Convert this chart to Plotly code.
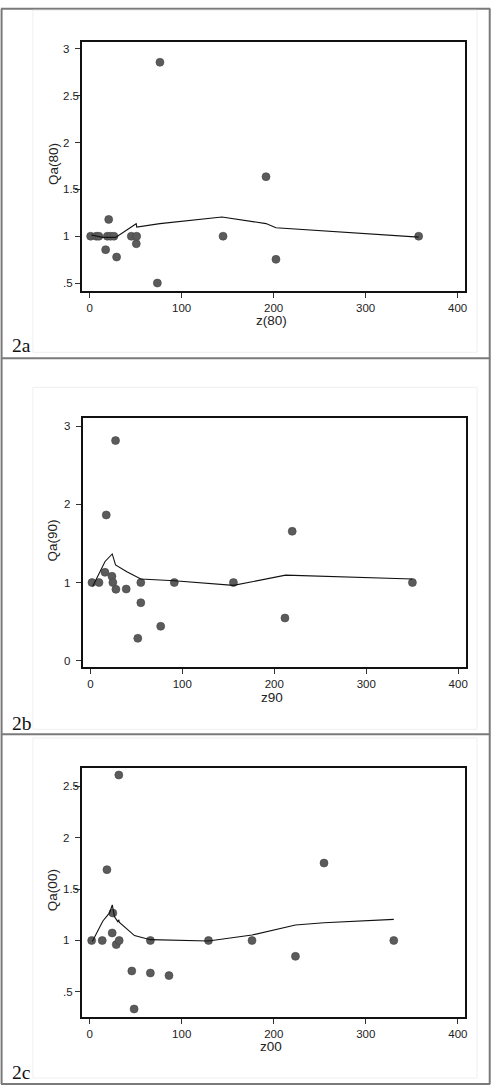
import plotly.graph_objects as go

W, H = 498, 1086

# ---------------- data ----------------
# Panel 2a
z80 = [1.1, 7.2, 10.0, 17.4, 19.2, 20.7, 22.8, 26.4, 29.3, 45.3, 50.7, 51.1, 73.6, 76.4, 145.0, 191.7, 202.5, 357.6]
qa80 = [1.0, 1.0, 1.0, 0.856, 1.0, 1.18, 1.0, 1.0, 0.778, 1.0, 0.92, 1.0, 0.5, 2.858, 1.0, 1.636, 0.753, 1.0]
fit80_x = [1.8, 14.4, 28.2, 50.6, 51.2, 76.4, 143.8, 191.7, 202.5, 357.6]
fit80_y = [1.013, 0.988, 0.988, 1.134, 1.098, 1.135, 1.205, 1.135, 1.09, 0.99]

# Panel 2b
z90 = [1.8, 9.4, 15.9, 17.3, 23.5, 24.5, 27.4, 27.8, 39.0, 51.6, 54.9, 54.9, 76.5, 91.3, 155.6, 211.6, 219.5, 350.2]
qa90 = [1.0, 1.0, 1.131, 1.865, 1.08, 1.0, 2.817, 0.913, 0.917, 0.286, 1.0, 0.742, 0.44, 1.0, 1.0, 0.546, 1.656, 1.0]
fit90_x = [2.5, 10.1, 16.0, 23.8, 27.4, 39.7, 54.9, 91.3, 155.6, 212.3, 350.2]
fit90_y = [0.95, 1.139, 1.27, 1.366, 1.225, 1.139, 1.045, 1.024, 0.964, 1.095, 1.046]

# Panel 2c
z00 = [2.2, 13.7, 18.8, 24.5, 25.2, 28.9, 31.7, 32.1, 45.8, 48.3, 66.0, 66.0, 86.2, 129.1, 176.4, 223.6, 254.6, 330.4]
qa00 = [1.0, 1.0, 1.688, 1.073, 1.267, 0.96, 2.607, 1.0, 0.704, 0.335, 1.0, 0.684, 0.659, 1.0, 1.0, 0.846, 1.752, 1.0]
fit00_x = [2.9, 14.4, 21.6, 24.6, 27.0, 30.6, 31.7, 32.1, 48.7, 66.0, 129.1, 176.4, 223.6, 254.6, 330.4]
fit00_y = [0.99, 1.19, 1.268, 1.345, 1.231, 1.183, 1.2, 1.178, 1.048, 1.008, 0.995, 1.053, 1.15, 1.172, 1.205]

x_ticks = [0, 100, 200, 300, 400]
x_ticklabels = ["0", "100", "200", "300", "400"]
y_ticks_a = [0.5, 1, 1.5, 2, 2.5, 3]
y_ticklabels_a = [".5", "1", "1.5", "2", "2.5", "3"]
y_ticks_b = [0, 1, 2, 3]
y_ticklabels_b = ["0", "1", "2", "3"]
y_ticks_c = [0.5, 1, 1.5, 2, 2.5]
y_ticklabels_c = [".5", "1", "1.5", "2", "2.5"]

x_titles = ["z(80)", "z90", "z00"]
y_titles = ["Qa(80)", "Qa(90)", "Qa(00)"]
panel_labels = ["2a", "2b", "2c"]

# ---------------- layout helpers ----------------
def px_x(p):
    return p / W

def px_y(p):
    return 1 - p / H

panels = [
    dict(x=z80, y=qa80, fx=fit80_x, fy=fit80_y,
         box=(82.5, 467, 41.5, 291), xr=[-8.12, 408.1], yr=[0.415, 3.08],
         yt=y_ticks_a, ytl=y_ticklabels_a, ylab_x=62, ytitle_x=53, xtitle_y=321, plabel_y=346),
    dict(x=z90, y=qa90, fx=fit90_x, fy=fit90_y,
         box=(83, 468, 418.3, 667.3), xr=[-8.34, 408.6], yr=[-0.0845, 3.102],
         yt=y_ticks_b, ytl=y_ticklabels_b, ylab_x=63, ytitle_x=53, xtitle_y=697.5, plabel_y=723),
    dict(x=z00, y=qa00, fx=fit00_x, fy=fit00_y,
         box=(82.5, 467, 767.7, 1017), xr=[-8.11, 407.9], yr=[0.257, 2.678],
         yt=y_ticks_c, ytl=y_ticklabels_c, ylab_x=62.5, ytitle_x=53, xtitle_y=1046.5, plabel_y=1072.5),
]

fig = go.Figure()
annotations = []
layout_axes = {}

tick_font = dict(family="Liberation Sans, Arial, sans-serif", size=11.5, color="#222")
title_font = dict(family="Liberation Sans, Arial, sans-serif", size=13.5, color="#222")

for i, p in enumerate(panels):
    n = "" if i == 0 else str(i + 1)
    xa, ya = "x" + n, "y" + n
    x0, x1, y0, y1 = p["box"]
    fig.add_trace(go.Scatter(
        x=p["x"], y=p["y"], mode="markers", xaxis=xa, yaxis=ya,
        marker=dict(size=8, color="#5b5b5b", line=dict(width=0.6, color="#444")),
        showlegend=False, hoverinfo="skip"))
    fig.add_trace(go.Scatter(
        x=p["fx"], y=p["fy"], mode="lines", xaxis=xa, yaxis=ya,
        line=dict(color="#111", width=1.1),
        showlegend=False, hoverinfo="skip"))
    layout_axes["xaxis" + n] = dict(
        domain=[px_x(x0), px_x(x1)], range=p["xr"], anchor=ya,
        tickvals=x_ticks, ticktext=x_ticklabels, ticks="outside", ticklen=5,
        tickcolor="#333", tickwidth=1, tickfont=tick_font,
        showline=True, linecolor="#111", linewidth=1.6, mirror=True,
        showgrid=False, zeroline=False, fixedrange=True)
    layout_axes["yaxis" + n] = dict(
        domain=[px_y(y1), px_y(y0)], range=p["yr"], anchor=xa,
        tickvals=p["yt"], ticks="outside", ticklen=5, showticklabels=False,
        tickcolor="#333", tickwidth=1,
        showline=True, linecolor="#111", linewidth=1.6, mirror=True,
        showgrid=False, zeroline=False, fixedrange=True)
    # y tick labels (left aligned as in the original)
    for v, t in zip(p["yt"], p["ytl"]):
        annotations.append(dict(
            x=px_x(p["ylab_x"]), xref="paper", y=v, yref=ya,
            text=t, showarrow=False, xanchor="left", yanchor="middle",
            font=tick_font, borderpad=0))
    # axis titles
    annotations.append(dict(
        x=px_x((x0 + x1) / 2 - 2.5), xref="paper", y=px_y(p["xtitle_y"]), yref="paper",
        text=x_titles[i], showarrow=False, xanchor="center", yanchor="middle",
        font=title_font, borderpad=0))
    annotations.append(dict(
        x=px_x(p["ytitle_x"]), xref="paper", y=px_y((y0 + y1) / 2 - 2), yref="paper",
        text=y_titles[i], showarrow=False, xanchor="center", yanchor="middle",
        textangle=-90, font=title_font, borderpad=0))
    # panel label
    annotations.append(dict(
        x=px_x(11), xref="paper", y=px_y(p["plabel_y"]), yref="paper",
        text=panel_labels[i], showarrow=False, xanchor="left", yanchor="middle",
        font=dict(family="Liberation Serif, Times New Roman, serif", size=19.5, color="#111"),
        borderpad=0))

# frame lines
shapes = []
frame = dict(type="line", xref="paper", yref="paper", line=dict(color="#7a7a7a", width=2))
for yy in [8.8, 358.3, 734.3, 1084.0]:
    shapes.append(dict(frame, x0=px_x(1.0), x1=px_x(492.2), y0=px_y(yy), y1=px_y(yy)))
for xx in [1.6, 491.7]:
    shapes.append(dict(frame, x0=px_x(xx), x1=px_x(xx), y0=px_y(8.8), y1=px_y(1084.0)))

# faint inner graph-region outlines
faint = dict(type="rect", xref="paper", yref="paper", line=dict(color="#efefef", width=1), fillcolor="rgba(0,0,0,0)")
for (t, b) in [(10.3, 352.3), (387.3, 729.3), (738.0, 1078.0)]:
    shapes.append(dict(faint, x0=px_x(33), x1=px_x(479), y0=px_y(b), y1=px_y(t)))

fig.update_layout(
    width=W, height=H, margin=dict(l=0, r=0, t=0, b=0),
    paper_bgcolor="white", plot_bgcolor="white",
    annotations=annotations, shapes=shapes, showlegend=False,
    **layout_axes)

fig.write_html("out.html", config={"displayModeBar": False})
